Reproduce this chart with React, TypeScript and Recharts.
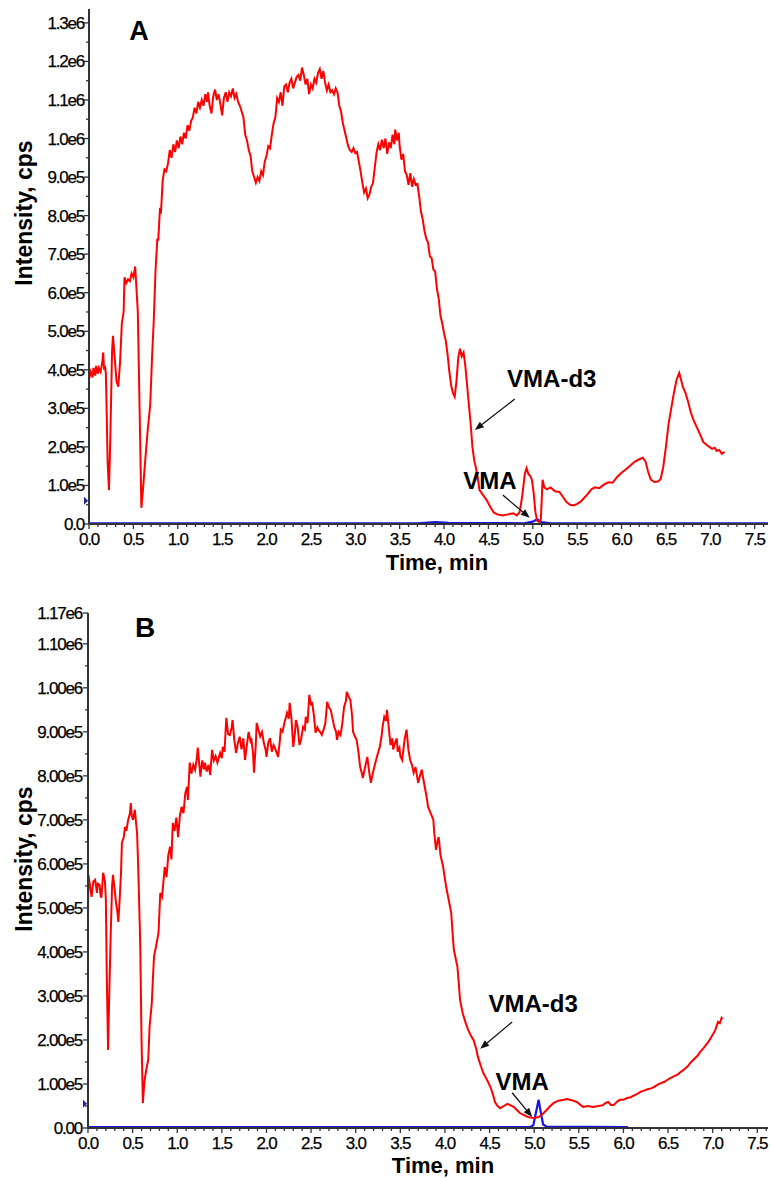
// Extracted ion chromatograms, panels A and B

import { LineChart, Line, XAxis, YAxis, ReferenceLine, ReferenceDot } from 'recharts';

const FONT = '"Liberation Sans", Arial, sans-serif';

// [time (min), intensity (x1e5 cps)]
const redA: [number, number][] = [
  [0.0, 3.75], [0.02, 3.95], [0.04, 3.8], [0.05, 4.05], [0.07, 3.85], [0.08, 4.1], [0.1, 3.9], [0.11, 4.05],
  [0.13, 3.95], [0.15, 4.2], [0.16, 4.45], [0.17, 4.0], [0.18, 4.1], [0.19, 3.9], [0.2, 2.8], [0.21, 1.6],
  [0.225, 0.88], [0.24, 2.2], [0.26, 4.5], [0.27, 4.88], [0.29, 4.3], [0.31, 3.7], [0.33, 3.56], [0.35, 4.2],
  [0.37, 5.2], [0.39, 5.5], [0.4, 6.4], [0.42, 6.25], [0.44, 6.35], [0.46, 6.3], [0.48, 6.5], [0.5, 6.4],
  [0.52, 6.68], [0.53, 6.3], [0.55, 5.5], [0.57, 3.0], [0.59, 0.42], [0.61, 0.95], [0.63, 1.55], [0.66, 2.4],
  [0.69, 3.1], [0.71, 4.3], [0.73, 5.3], [0.75, 6.6], [0.77, 7.4], [0.78, 7.35], [0.8, 8.2], [0.81, 8.05],
  [0.83, 8.9], [0.85, 9.2], [0.87, 9.15], [0.89, 9.35], [0.91, 9.7], [0.93, 9.5], [0.95, 9.85], [0.97, 9.65],
  [0.99, 9.95], [1.01, 9.75], [1.03, 10.05], [1.05, 9.85], [1.07, 10.15], [1.09, 10.0], [1.11, 10.35], [1.13, 10.2],
  [1.15, 10.45], [1.17, 10.55], [1.19, 10.8], [1.21, 10.65], [1.23, 10.95], [1.25, 10.8], [1.27, 11.0], [1.29, 10.85],
  [1.31, 11.15], [1.33, 10.95], [1.34, 11.2], [1.36, 10.85], [1.38, 10.65], [1.4, 11.1], [1.42, 11.27], [1.44, 11.0],
  [1.46, 11.15], [1.48, 10.9], [1.5, 10.6], [1.52, 11.05], [1.54, 11.2], [1.56, 10.95], [1.58, 11.2], [1.6, 11.1],
  [1.62, 11.3], [1.64, 11.05], [1.66, 11.15], [1.68, 10.95], [1.7, 10.85], [1.72, 10.7], [1.74, 10.55], [1.76, 10.1],
  [1.78, 9.95], [1.8, 9.7], [1.82, 9.55], [1.84, 9.15], [1.86, 9.0], [1.88, 8.85], [1.9, 9.0], [1.92, 8.9],
  [1.94, 9.15], [1.96, 9.05], [1.98, 9.4], [2.0, 9.55], [2.02, 9.8], [2.04, 9.75], [2.06, 10.1], [2.08, 10.4],
  [2.1, 10.55], [2.12, 11.05], [2.14, 10.95], [2.16, 11.2], [2.18, 10.85], [2.2, 11.35], [2.22, 11.4], [2.24, 11.2],
  [2.26, 11.45], [2.28, 11.55], [2.3, 11.3], [2.32, 11.45], [2.34, 11.6], [2.36, 11.65], [2.38, 11.5], [2.4, 11.84],
  [2.42, 11.65], [2.44, 11.4], [2.46, 11.55], [2.48, 11.15], [2.5, 11.4], [2.52, 11.3], [2.54, 11.55], [2.56, 11.45],
  [2.58, 11.7], [2.6, 11.8], [2.62, 11.55], [2.64, 11.75], [2.66, 11.45], [2.68, 11.25], [2.7, 11.4], [2.72, 11.2],
  [2.74, 11.25], [2.76, 11.15], [2.78, 11.3], [2.8, 11.2], [2.82, 10.85], [2.84, 10.7], [2.86, 10.4], [2.88, 10.2],
  [2.9, 10.0], [2.92, 9.8], [2.94, 9.7], [2.96, 9.65], [2.98, 9.75], [3.0, 9.62], [3.02, 9.65], [3.04, 9.4],
  [3.06, 9.15], [3.08, 8.85], [3.1, 8.6], [3.12, 8.7], [3.14, 8.45], [3.16, 8.55], [3.18, 8.75], [3.2, 8.85],
  [3.22, 9.25], [3.24, 9.64], [3.26, 9.85], [3.28, 9.7], [3.3, 9.97], [3.32, 9.75], [3.34, 10.0], [3.36, 9.6],
  [3.38, 9.9], [3.4, 9.75], [3.42, 10.1], [3.44, 9.85], [3.45, 10.23], [3.47, 9.95], [3.49, 10.15], [3.5, 9.8],
  [3.52, 9.45], [3.54, 9.6], [3.56, 9.15], [3.58, 9.05], [3.6, 8.8], [3.62, 9.1], [3.64, 8.75], [3.66, 8.95],
  [3.68, 8.8], [3.7, 8.82], [3.72, 8.5], [3.74, 8.1], [3.76, 7.9], [3.78, 7.6], [3.8, 7.4], [3.82, 7.3],
  [3.84, 6.95], [3.86, 6.9], [3.88, 6.6], [3.9, 6.55], [3.92, 6.1], [3.94, 5.85], [3.96, 5.4], [3.98, 5.2],
  [4.0, 4.95], [4.02, 4.75], [4.04, 4.4], [4.06, 3.95], [4.08, 3.6], [4.1, 3.4], [4.12, 3.3], [4.14, 3.7],
  [4.16, 4.3], [4.18, 4.55], [4.2, 4.35], [4.22, 4.45], [4.24, 4.1], [4.26, 3.6], [4.28, 3.1], [4.3, 2.6],
  [4.32, 2.0], [4.34, 1.65], [4.36, 1.45], [4.38, 1.2], [4.4, 0.88], [4.44, 0.75], [4.48, 0.62], [4.52, 0.45],
  [4.56, 0.3], [4.6, 0.25], [4.66, 0.22], [4.72, 0.25], [4.78, 0.28], [4.82, 0.22], [4.85, 0.3], [4.87, 0.55],
  [4.89, 0.9], [4.91, 1.3], [4.93, 1.45], [4.95, 1.3], [4.97, 1.25], [4.99, 1.15], [5.01, 0.8], [5.03, 0.3],
  [5.05, 0.08], [5.07, 0.05], [5.09, 0.1], [5.1, 0.6], [5.11, 1.15], [5.13, 0.95], [5.16, 0.9], [5.2, 0.95],
  [5.25, 0.85], [5.3, 0.83], [5.34, 0.7], [5.38, 0.57], [5.42, 0.5], [5.46, 0.48], [5.5, 0.52], [5.54, 0.58],
  [5.58, 0.68], [5.62, 0.78], [5.66, 0.9], [5.7, 0.95], [5.75, 0.93], [5.8, 1.02], [5.85, 1.08], [5.9, 1.07],
  [5.95, 1.22], [6.0, 1.33], [6.05, 1.42], [6.1, 1.52], [6.15, 1.62], [6.2, 1.68], [6.24, 1.72], [6.27, 1.62],
  [6.3, 1.35], [6.33, 1.15], [6.37, 1.09], [6.41, 1.1], [6.44, 1.16], [6.47, 1.48], [6.5, 2.0], [6.53, 2.6],
  [6.56, 3.0], [6.59, 3.4], [6.62, 3.74], [6.65, 3.92], [6.67, 3.75], [6.69, 3.56], [6.72, 3.4], [6.75, 3.17],
  [6.78, 2.9], [6.81, 2.7], [6.85, 2.5], [6.89, 2.3], [6.92, 2.13], [6.96, 2.05], [6.99, 2.0], [7.02, 1.95],
  [7.05, 1.98], [7.07, 1.9], [7.1, 1.92], [7.13, 1.82], [7.16, 1.87],
];

const blueA: [number, number][] = [
  [0.0, 0.02], [3.7, 0.02], [3.9, 0.05], [4.05, 0.03], [4.9, 0.02], [5.0, 0.06], [5.05, 0.12], [5.1, 0.05],
  [5.2, 0.02], [7.65, 0.02],
];

const redB: [number, number][] = [
  [0.0, 4.8], [0.005, 5.75], [0.02, 5.55], [0.04, 5.25], [0.06, 5.6], [0.08, 5.64], [0.1, 5.34], [0.11, 5.55],
  [0.13, 5.52], [0.14, 5.3], [0.15, 5.23], [0.17, 5.8], [0.19, 5.6], [0.2, 5.2], [0.21, 3.5], [0.225, 1.77],
  [0.24, 3.2], [0.255, 4.43], [0.27, 5.5], [0.28, 5.75], [0.3, 5.4], [0.315, 5.1], [0.33, 4.9], [0.34, 4.68],
  [0.355, 5.2], [0.37, 5.8], [0.38, 6.48], [0.4, 6.6], [0.415, 6.84], [0.43, 6.75], [0.45, 7.0], [0.47, 7.15],
  [0.48, 7.38], [0.49, 7.1], [0.505, 7.0], [0.525, 7.23], [0.54, 6.9], [0.55, 6.7], [0.56, 6.1], [0.575, 5.0],
  [0.585, 4.2], [0.6, 2.0], [0.615, 0.57], [0.63, 1.0], [0.64, 1.16], [0.66, 1.4], [0.675, 1.55], [0.69, 2.3],
  [0.715, 2.84], [0.73, 3.5], [0.74, 3.9], [0.76, 4.1], [0.79, 4.43], [0.81, 5.34], [0.83, 5.25], [0.86, 5.93],
  [0.88, 5.7], [0.9, 6.2], [0.92, 6.39], [0.935, 6.1], [0.95, 6.93], [0.97, 6.75], [0.99, 7.05], [1.01, 6.61],
  [1.03, 7.1], [1.05, 7.3], [1.07, 7.15], [1.09, 7.6], [1.11, 7.75], [1.12, 7.45], [1.14, 8.3], [1.16, 8.05],
  [1.18, 8.25], [1.2, 8.14], [1.22, 8.4], [1.23, 8.64], [1.25, 8.2], [1.26, 7.98], [1.28, 8.35], [1.3, 8.15],
  [1.31, 8.3], [1.33, 8.1], [1.35, 8.25], [1.37, 8.02], [1.39, 8.59], [1.41, 8.35], [1.43, 8.45], [1.45, 8.3],
  [1.48, 8.52], [1.5, 8.4], [1.51, 8.66], [1.53, 8.55], [1.55, 9.32], [1.57, 8.95], [1.59, 8.93], [1.61, 9.1],
  [1.62, 9.27], [1.64, 8.8], [1.66, 8.52], [1.68, 8.75], [1.7, 8.89], [1.72, 8.6], [1.74, 8.85], [1.76, 8.36],
  [1.78, 8.7], [1.8, 9.0], [1.82, 8.8], [1.83, 8.86], [1.85, 8.5], [1.86, 8.07], [1.88, 8.7], [1.89, 9.2],
  [1.91, 9.05], [1.93, 8.9], [1.95, 9.0], [1.97, 8.75], [1.99, 8.6], [2.0, 8.43], [2.02, 8.75], [2.04, 8.86],
  [2.06, 8.55], [2.08, 8.7], [2.09, 8.66], [2.11, 8.55], [2.13, 8.43], [2.15, 8.8], [2.16, 9.05], [2.18, 9.0],
  [2.2, 9.2], [2.22, 9.35], [2.23, 9.43], [2.25, 9.3], [2.26, 9.66], [2.28, 9.3], [2.3, 8.66], [2.32, 9.0],
  [2.33, 9.27], [2.35, 9.1], [2.37, 8.7], [2.39, 8.85], [2.41, 9.11], [2.43, 9.05], [2.44, 9.34], [2.46, 9.2],
  [2.48, 9.84], [2.5, 9.6], [2.51, 9.68], [2.53, 9.4], [2.55, 8.98], [2.57, 9.1], [2.58, 9.05], [2.6, 9.0],
  [2.62, 8.93], [2.64, 9.05], [2.66, 9.2], [2.68, 9.68], [2.7, 9.55], [2.72, 9.5], [2.74, 9.3], [2.76, 9.11],
  [2.78, 9.0], [2.79, 8.82], [2.81, 9.0], [2.83, 8.93], [2.85, 9.2], [2.87, 9.57], [2.89, 9.7], [2.9, 9.91],
  [2.92, 9.8], [2.94, 9.73], [2.96, 9.35], [2.97, 9.0], [2.99, 8.9], [3.01, 8.82], [3.03, 8.55], [3.05, 8.2],
  [3.07, 8.05], [3.08, 7.95], [3.1, 8.15], [3.13, 8.43], [3.15, 8.1], [3.17, 7.84], [3.19, 8.05], [3.22, 8.3],
  [3.24, 8.45], [3.27, 8.66], [3.29, 8.9], [3.3, 9.1], [3.32, 9.34], [3.34, 9.25], [3.35, 9.5], [3.37, 9.1],
  [3.39, 8.7], [3.41, 8.85], [3.42, 8.6], [3.44, 8.75], [3.46, 8.85], [3.47, 8.55], [3.49, 8.64], [3.5, 8.45],
  [3.52, 8.36], [3.54, 8.7], [3.55, 8.85], [3.57, 9.05], [3.59, 8.6], [3.61, 8.36], [3.63, 8.25], [3.65, 8.07],
  [3.67, 8.2], [3.7, 7.84], [3.72, 8.0], [3.74, 8.14], [3.76, 7.9], [3.78, 7.68], [3.8, 7.45], [3.81, 7.3],
  [3.83, 7.2], [3.85, 7.1], [3.87, 7.0], [3.88, 6.7], [3.9, 6.32], [3.92, 6.55], [3.93, 6.61], [3.95, 6.2],
  [3.98, 5.93], [4.0, 5.65], [4.02, 5.41], [4.05, 5.1], [4.07, 4.89], [4.09, 4.3], [4.1, 4.05], [4.12, 3.85],
  [4.14, 3.66], [4.17, 2.9], [4.2, 2.6], [4.23, 2.4], [4.26, 2.23], [4.29, 2.1], [4.32, 2.0], [4.35, 1.8],
  [4.37, 1.61], [4.4, 1.42], [4.43, 1.25], [4.47, 1.1], [4.51, 0.93], [4.54, 0.75], [4.56, 0.59], [4.59, 0.5],
  [4.62, 0.45], [4.66, 0.5], [4.7, 0.55], [4.73, 0.52], [4.77, 0.48], [4.8, 0.42], [4.84, 0.34], [4.88, 0.3],
  [4.93, 0.25], [4.99, 0.23], [5.05, 0.25], [5.1, 0.33], [5.14, 0.41], [5.18, 0.5], [5.22, 0.57], [5.27, 0.62],
  [5.33, 0.64], [5.37, 0.66], [5.4, 0.64], [5.44, 0.62], [5.48, 0.59], [5.52, 0.52], [5.55, 0.48], [5.6, 0.5],
  [5.66, 0.48], [5.72, 0.5], [5.77, 0.52], [5.8, 0.57], [5.83, 0.59], [5.86, 0.52], [5.89, 0.52], [5.93, 0.6],
  [5.96, 0.64], [6.0, 0.64], [6.04, 0.68], [6.08, 0.7], [6.12, 0.74], [6.16, 0.78], [6.19, 0.82], [6.23, 0.85],
  [6.27, 0.88], [6.31, 0.9], [6.34, 0.93], [6.38, 0.98], [6.42, 1.02], [6.46, 1.05], [6.49, 1.09], [6.53, 1.14],
  [6.57, 1.18], [6.61, 1.22], [6.64, 1.27], [6.68, 1.33], [6.72, 1.4], [6.75, 1.48], [6.79, 1.56], [6.83, 1.64],
  [6.86, 1.73], [6.9, 1.82], [6.93, 1.9], [6.95, 1.95], [6.98, 2.05], [7.01, 2.15], [7.03, 2.23], [7.05, 2.35],
  [7.06, 2.41], [7.08, 2.38], [7.1, 2.5], [7.11, 2.47],
];

const blueB: [number, number][] = [
  [0.0, 0.02], [4.95, 0.02], [4.99, 0.06], [5.02, 0.35], [5.05, 0.64], [5.07, 0.4], [5.1, 0.08], [5.14, 0.03],
  [6.05, 0.02],
];

// axis ticks
const xMajor = [0, 0.5, 1, 1.5, 2, 2.5, 3, 3.5, 4, 4.5, 5, 5.5, 6, 6.5, 7, 7.5];
const xLabels = ['0.0', '0.5', '1.0', '1.5', '2.0', '2.5', '3.0', '3.5', '4.0', '4.5', '5.0', '5.5', '6.0', '6.5', '7.0', '7.5'];
const xMinor = [
  0.1, 0.2, 0.3, 0.4, 0.6, 0.7, 0.8, 0.9, 1.1, 1.2, 1.3, 1.4, 1.6, 1.7, 1.8, 1.9, 2.1, 2.2, 2.3, 2.4,
  2.6, 2.7, 2.8, 2.9, 3.1, 3.2, 3.3, 3.4, 3.6, 3.7, 3.8, 3.9, 4.1, 4.2, 4.3, 4.4, 4.6, 4.7, 4.8, 4.9,
  5.1, 5.2, 5.3, 5.4, 5.6, 5.7, 5.8, 5.9, 6.1, 6.2, 6.3, 6.4, 6.6, 6.7, 6.8, 6.9, 7.1, 7.2, 7.3, 7.4, 7.6,
];

const yMajorA = [0, 1, 2, 3, 4, 5, 6, 7, 8, 9, 10, 11, 12, 13];
const yLabelsA = ['0.0', '1.0e5', '2.0e5', '3.0e5', '4.0e5', '5.0e5', '6.0e5', '7.0e5', '8.0e5', '9.0e5', '1.0e6', '1.1e6', '1.2e6', '1.3e6'];
const yMinorA = [0.5, 1.5, 2.5, 3.5, 4.5, 5.5, 6.5, 7.5, 8.5, 9.5, 10.5, 11.5, 12.5];

const yMajorB = [0, 1, 2, 3, 4, 5, 6, 7, 8, 9, 10, 11, 11.7];
const yLabelsB = ['0.00', '1.00e5', '2.00e5', '3.00e5', '4.00e5', '5.00e5', '6.00e5', '7.00e5', '8.00e5', '9.00e5', '1.00e6', '1.10e6', '1.17e6'];
const yMinorB = [0.5, 1.5, 2.5, 3.5, 4.5, 5.5, 6.5, 7.5, 8.5, 9.5, 10.5];

// annotations: [text, x, y] and arrows [x1, y1, x2, y2]
const notesA: [string, number, number][] = [['VMA-d3', 5.214, 3.79], ['VMA', 4.516, 1.14]];
const arrowsA: [number, number, number, number][] = [[4.797, 3.24, 4.347, 2.44], [4.662, 0.75, 4.966, 0.16]];
const notesB: [string, number, number][] = [['VMA-d3', 4.989, 2.84], ['VMA', 4.865, 1.07]];
const arrowsB: [number, number, number, number][] = [[4.753, 2.41, 4.395, 1.8], [4.753, 0.8, 4.978, 0.25]];

const toRows = (arr: [number, number][]) => arr.map(([t, v]) => ({ t, v }));
const merge = (a: number[], b: number[]) => [...a, ...b].sort((p, q) => p - q);
const isIn = (list: number[], v: number) => list.findIndex((m) => Math.abs(m - v) < 1e-6);

const tickText = { fontSize: 17, letterSpacing: -1.2, fill: '#000', stroke: '#000', strokeWidth: 0.25, fontFamily: FONT };

function makeXTick(labels: string[]) {
  return (props: any) => {
    const { x, y, payload } = props;
    const i = isIn(xMajor, payload.value);
    return (
      <g>
        <line x1={x} y1={y} x2={x} y2={y + (i >= 0 ? 5 : 3)} stroke="#333" strokeWidth={1.3} />
        {i >= 0 && (
          <text x={x} y={y + 21} textAnchor="middle" {...tickText}>
            {labels[i]}
          </text>
        )}
      </g>
    );
  };
}

function makeYTick(majors: number[], labels: string[], gap: number) {
  return (props: any) => {
    const { x, y, payload } = props;
    const i = isIn(majors, payload.value);
    return (
      <g>
        <line x1={x} y1={y} x2={x - (i >= 0 ? 5 : 3)} y2={y} stroke="#333" strokeWidth={1.3} />
        {i >= 0 && (
          <text x={x - gap} y={y} dy={6} textAnchor="end" {...tickText}>
            {labels[i]}
          </text>
        )}
      </g>
    );
  };
}

const Arrow = (p: any) => {
  const { x1, y1, x2, y2 } = p;
  const a = Math.atan2(y2 - y1, x2 - x1);
  const L = 9;
  const W = 3.5;
  const bx = x2 - L * Math.cos(a);
  const by = y2 - L * Math.sin(a);
  const pts = `${x2},${y2} ${bx - W * Math.sin(a)},${by + W * Math.cos(a)} ${bx + W * Math.sin(a)},${by - W * Math.cos(a)}`;
  return (
    <g>
      <line x1={x1} y1={y1} x2={bx} y2={by} stroke="#111" strokeWidth={1.3} />
      <polygon points={pts} fill="#111" />
    </g>
  );
};

const noteShape = (text: string) => (p: any) => (
  <text x={p.cx} y={p.cy} dy="0.36em" textAnchor="middle" fontSize={24} fontWeight="bold" fill="#000" fontFamily={FONT}>
    {text}
  </text>
);

const markerShape = (p: any) => (
  <polygon points={`${p.cx - 5},${p.cy - 4} ${p.cx - 5},${p.cy + 4} ${p.cx - 1},${p.cy}`} fill="#1a2590" />
);

interface PanelProps {
  red: [number, number][];
  blue: [number, number][];
  xMax: number;
  yMax: number;
  yMajor: number[];
  yLabels: string[];
  yMinor: number[];
  yGap: number;
  axisW: number;
  height: number;
  top: number;
  notes: [string, number, number][];
  arrows: [number, number, number, number][];
  marker: number;
}

function Panel(p: PanelProps) {
  return (
    <LineChart width={771} height={p.height} margin={{ top: p.top, right: 3, bottom: 0, left: 0 }}>
      <XAxis
        type="number"
        dataKey="t"
        domain={[0, p.xMax]}
        allowDataOverflow
        ticks={merge(xMajor, xMinor)}
        interval={0}
        tickSize={0}
        tickMargin={0}
        tickLine={false}
        tick={makeXTick(xLabels)}
        height={p.height - p.top - 515}
        axisLine={{ stroke: '#333', strokeWidth: 2 }}
      />
      <YAxis
        type="number"
        domain={[0, p.yMax]}
        allowDataOverflow
        ticks={merge(p.yMajor, p.yMinor)}
        interval={0}
        tickSize={0}
        tickMargin={0}
        tickLine={false}
        tick={makeYTick(p.yMajor, p.yLabels, p.yGap)}
        width={p.axisW}
        axisLine={{ stroke: '#333', strokeWidth: 2 }}
      />
      <Line data={toRows(p.blue)} dataKey="v" type="linear" stroke="#1414e6" strokeWidth={2.2} dot={false} isAnimationActive={false} />
      <Line data={toRows(p.red)} dataKey="v" type="linear" stroke="#ff0000" strokeWidth={2} dot={false} isAnimationActive={false} />
      {p.arrows.map((a, i) => (
        <ReferenceLine key={'a' + i} segment={[{ x: a[0], y: a[1] }, { x: a[2], y: a[3] }]} shape={Arrow} ifOverflow="visible" />
      ))}
      {p.notes.map((n, i) => (
        <ReferenceDot key={'n' + i} x={n[1]} y={n[2]} r={1} shape={noteShape(n[0])} ifOverflow="visible" />
      ))}
      <ReferenceDot x={0} y={p.marker} r={1} shape={markerShape} ifOverflow="visible" />
    </LineChart>
  );
}

const titleStyle = { fontFamily: FONT, fontWeight: 'bold' as const, fill: '#000' };

export default function App() {
  return (
    <div style={{ position: 'absolute', left: 0, top: 0, width: 771, height: 1178, background: '#fff' }}>
      <div style={{ position: 'absolute', left: 0, top: 0 }}>
        <Panel
          red={redA} blue={blueA} xMax={7.65} yMax={13.36}
          yMajor={yMajorA} yLabels={yLabelsA} yMinor={yMinorA} yGap={5} axisW={89}
          height={580} top={9} notes={notesA} arrows={arrowsA} marker={0.6}
        />
      </div>
      <div style={{ position: 'absolute', left: 0, top: 590 }}>
        <Panel
          red={redB} blue={blueB} xMax={7.62} yMax={11.7}
          yMajor={yMajorB} yLabels={yLabelsB} yMinor={yMinorB} yGap={6} axisW={88}
          height={588} top={23} notes={notesB} arrows={arrowsB} marker={0.55}
        />
      </div>
      <svg width={771} height={1178} style={{ position: 'absolute', left: 0, top: 0, pointerEvents: 'none' }}>
        <text x={139} y={40} textAnchor="middle" fontSize={27} {...titleStyle}>A</text>
        <text x={145} y={637} textAnchor="middle" fontSize={28} {...titleStyle}>B</text>
        <text x={32} y={213} transform="rotate(-90, 32, 213)" textAnchor="middle" fontSize={23} {...titleStyle}>Intensity, cps</text>
        <text x={32} y={859} transform="rotate(-90, 32, 859)" textAnchor="middle" fontSize={23} {...titleStyle}>Intensity, cps</text>
        <text x={437} y={570} textAnchor="middle" fontSize={22} {...titleStyle}>Time, min</text>
        <text x={443} y={1173} textAnchor="middle" fontSize={22} {...titleStyle}>Time, min</text>
      </svg>
    </div>
  );
}
